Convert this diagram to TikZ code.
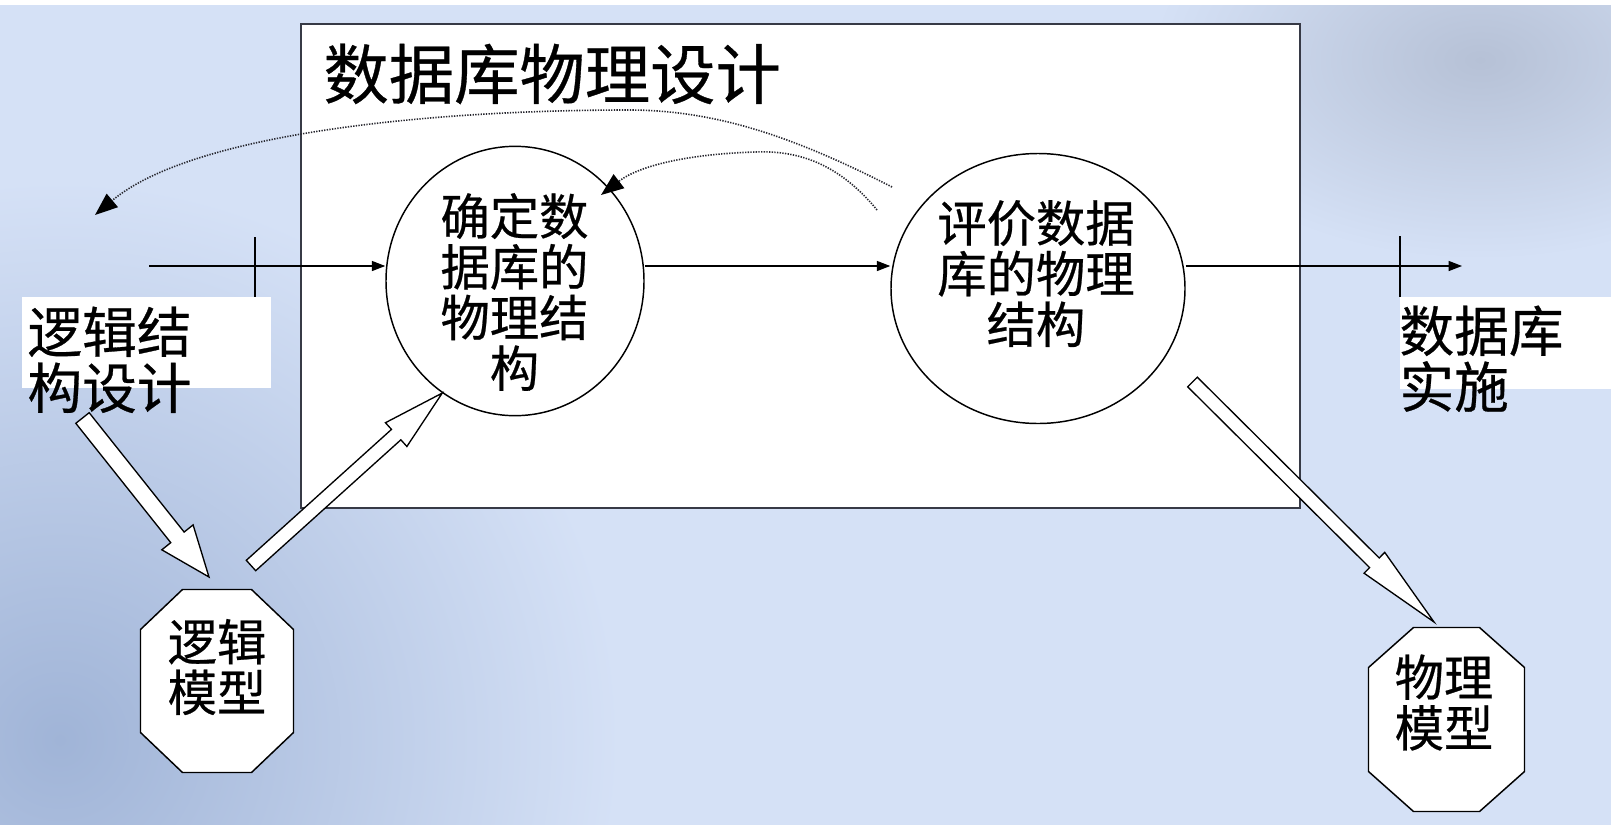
\documentclass[tikz,border=0pt]{standalone}
\usepackage{fontspec}
\setmainfont{Noto Sans CJK SC}[FakeBold=0.5]
\usetikzlibrary{arrows.meta,calc,shapes.geometric,positioning}

\definecolor{slidebg}{RGB}{213,225,246}
\definecolor{slideshade}{RGB}{160,180,215}
\definecolor{cornershade}{RGB}{182,193,214}
\definecolor{framegray}{RGB}{55,58,70}
\definecolor{dotgray}{RGB}{40,40,48}

\tikzset{every picture/.style={line width=0.75pt}}
\tikzset{
  proc/.style={ellipse, draw, line width=1.1pt, fill=white, inner sep=0pt},
  proctext/.style={align=center, inner sep=0pt, font=\fontsize{37}{38}\selectfont},
  sidetext/.style={align=left, inner sep=0pt, font=\fontsize{41}{42}\selectfont},
  octbox/.style={rectangle, inner sep=0pt},
  octline/.style={draw, fill=white, line width=1.1pt},
  flow/.style={line width=0.9pt, -{Triangle[length=10pt,width=7.5pt]}},
  feedback/.style={dotgray, line width=1.2pt, dash pattern=on 1pt off 1pt, -{Triangle[length=17pt,width=13pt,black]}},
  hollow/.style={draw, fill=white, line width=1pt, line join=miter},
}

% octagon round an empty node: node, chamfer x, chamfer y
\newcommand{\octoutline}[3]{%
  \draw[octline] ($(#1.north west)+(#2,0)$) -- ($(#1.north east)+(-#2,0)$) -- ($(#1.north east)+(0,#3)$) -- ($(#1.south east)+(0,-#3)$) -- ($(#1.south east)+(-#2,0)$) -- ($(#1.south west)+(#2,0)$) -- ($(#1.south west)+(0,-#3)$) -- ($(#1.north west)+(0,#3)$) -- cycle;}

% hollow block arrow: tail, tip, shaft half width, head half width, head length
\newcommand{\blockarrow}[5]{%
  \coordinate (ba) at ($(#2)!#5!(#1)$);
  \draw[hollow] ($(#1)!#3!90:(#2)$) -- ($(ba)!#3!90:(#2)$) -- ($(ba)!#4!90:(#2)$) -- (#2) -- ($(ba)!#4!-90:(#2)$) -- ($(ba)!#3!-90:(#2)$) -- ($(#1)!#3!-90:(#2)$) -- cycle;}

\begin{document}
\begin{tikzpicture}[x=0.75pt,y=0.75pt,yscale=-1,xscale=1]
\useasboundingbox (0,0) rectangle (1611,825);

%Background
\fill[slidebg] (0,0) rectangle (1611,825);
\begin{scope}
\clip (0,0) rectangle (1611,825);
\shade[inner color=slideshade, outer color=slidebg] (60,740) circle (560);
\shade[inner color=cornershade, outer color=slidebg] (1480,60) ellipse (330 and 200);
\end{scope}
\fill[white] (0,0) rectangle (1611,5);

%Frame
\draw[framegray, line width=1.5pt, fill=white] (301,24) rectangle (1300,507.5);
\node[anchor=west, inner sep=0pt, font=\fontsize{49}{50}\selectfont] (title) at (323,74) {数据库物理设计};

%Processes
\node[proc, minimum width=193.5pt, minimum height=202pt] (detm) at (515,281) {};
\node[proctext] (detmT) at (514.5,292) {确定数\\据库的\\物理结\\构};
\node[proc, minimum width=220.5pt, minimum height=202.5pt] (eval) at (1038,288.5) {};
\node[proctext] (evalT) at (1036,273.6) {评价数据\\库的物理\\结构};

%Side labels
\fill[white] (22,296.5) rectangle (271,388);
\node[sidetext, anchor=west] (logT) at (27,359.8) {逻辑结\\构设计};
\fill[white] (1400,297) rectangle (1611,388.5);
\node[sidetext, anchor=west] (implT) at (1399,358.7) {数据库\\实施};

%Main flow
\coordinate (inL) at (149,266);
\coordinate (outR) at (1462,266);
\draw[flow] (inL) -- (detm.west |- inL);
\draw[flow] (detm.east |- inL) -- (eval.west |- inL);
\draw[flow] (eval.east |- inL) -- (outR);
\draw[line width=0.9pt] (255,237) -- (255,297);
\draw[line width=0.9pt] (1400,236) -- (1400,297);

%Feedback
\coordinate (fbBigS) at (892,187);
\coordinate (fbBigE) at (95,215);
\draw[feedback] (fbBigS) .. controls (800,140) and (720,110) .. (629,110) .. controls (420,110) and (190,135) .. (fbBigE);
\coordinate (fbSmallS) at (877,210);
\coordinate (fbSmallE) at (601,195);
\draw[feedback] (fbSmallS) .. controls (840,165) and (800,150) .. (755,152) .. controls (690,154) and (640,165) .. (fbSmallE);

%Models
\node[octbox, minimum width=114pt, minimum height=136.5pt] (logm) at (217,681) {};
\octoutline{logm}{42}{40}
\node[proctext] (logmT) at (217,667) {逻辑\\模型};
\node[octbox, minimum width=116.25pt, minimum height=137.25pt] (phym) at (1446.5,719.5) {};
\octoutline{phym}{45}{40}
\node[proctext] (phymT) at (1444,702.5) {物理\\模型};

%Block arrows
\coordinate (logTail) at (82.5,418);
\coordinate (logTip) at (209,577);
\blockarrow{logTail}{logTip}{6.4pt}{15pt}{38pt}
\coordinate (modTail) at (251,565.5);
\blockarrow{modTail}{detm.237}{5.25pt}{12pt}{46.5pt}
\coordinate (phyTail) at (1192.5,382);
\coordinate (phyTip) at (1434,622);
\blockarrow{phyTail}{phyTip}{5.1pt}{11pt}{63pt}

\end{tikzpicture}
\end{document}
